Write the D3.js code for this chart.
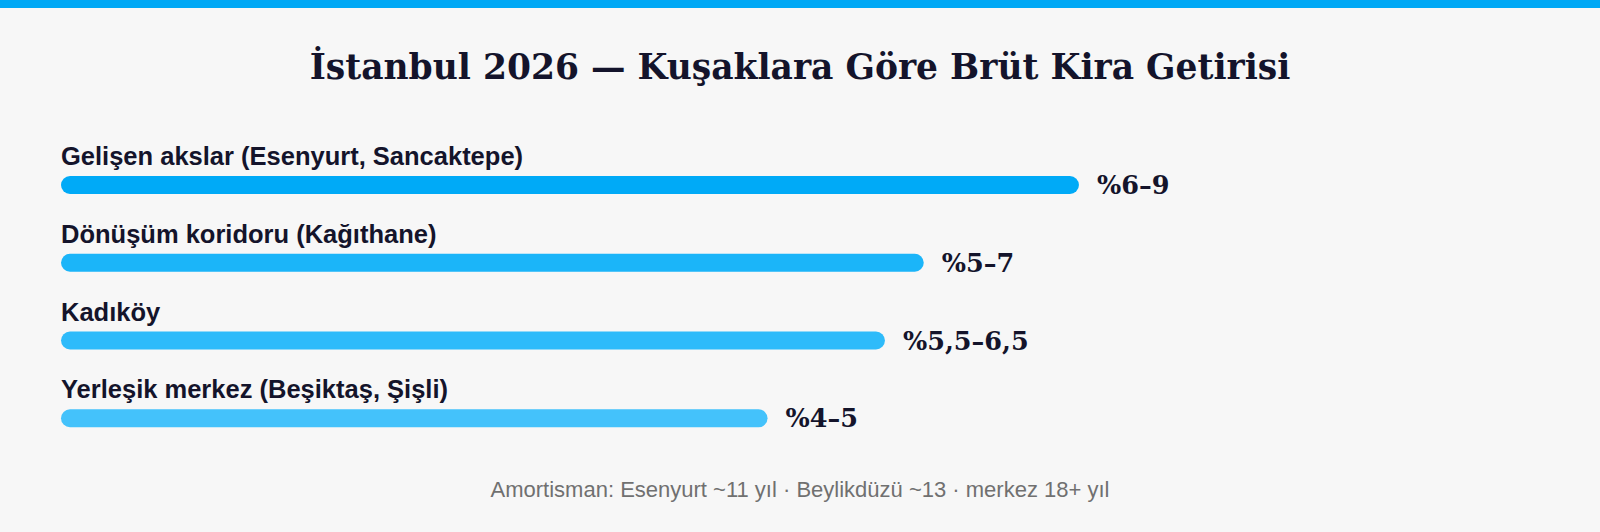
<!DOCTYPE html>
<html><head><meta charset="utf-8">
<script src="https://cdn.jsdelivr.net/npm/d3@7"></script>
<style>body{margin:0;background:#f7f7f7}svg{display:block}</style>
</head><body><svg id="c" width="1600" height="532"></svg>
<script>
const categories=["Gelişen akslar (Esenyurt, Sancaktepe)","Dönüşüm koridoru (Kağıthane)","Kadıköy","Yerleşik merkez (Beşiktaş, Şişli)"];
const values=[9.97,8.45,8.07,6.92];
const valueLabels=["%6–9","%5–7","%5,5–6,5","%4–5"];
const colors=["#00aaf7","#1bb5f9","#2ebbfa","#44c2fb"];
const svg=d3.select("#c");
svg.append("rect").attr("width",1600).attr("height",532).attr("fill","#f7f7f7");
svg.append("rect").attr("width",1600).attr("height",8).attr("fill","#00a8f5");
svg.append("text").attr("x",800).attr("y",79).attr("text-anchor","middle")
 .attr("font-family","DejaVu Serif").attr("font-weight","bold").attr("font-size",34.5).attr("fill","#14142b")
 .text("İstanbul 2026 — Kuşaklara Göre Brüt Kira Getirisi");
const x=d3.scaleLinear().domain([0,10]).range([61,1082]);
const y=d3.scaleBand().domain(categories).range([139,450]).paddingInner(0);
const g=svg.selectAll("g.r").data(categories).join("g");
g.append("text").attr("x",61).attr("y",d=>y(d)+26).attr("font-family","Liberation Sans, Arial").attr("font-weight","bold").attr("font-size",25.5).attr("fill","#14142b").text(d=>d);
g.append("rect").attr("x",x(0)).attr("y",d=>y(d)+37).attr("height",18).attr("rx",9)
 .attr("width",(d,i)=>x(values[i])-x(0)).attr("fill",(d,i)=>colors[i]);
g.append("text").attr("x",(d,i)=>x(values[i])+18).attr("y",d=>y(d)+55).attr("font-family","DejaVu Serif").attr("font-weight","bold").attr("font-size",25.5).attr("fill","#14142b").text((d,i)=>valueLabels[i]);
svg.append("text").attr("x",800).attr("y",497).attr("text-anchor","middle").attr("font-family","Liberation Sans, Arial").attr("font-size",22).attr("fill","#707070")
 .text("Amortisman: Esenyurt ~11 yıl · Beylikdüzü ~13 · merkez 18+ yıl");
</script></body></html>
